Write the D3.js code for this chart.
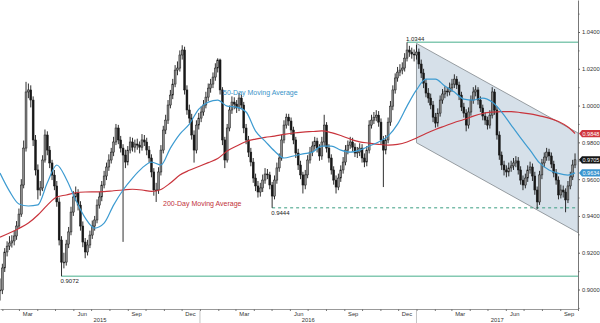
<!DOCTYPE html>
<html>
<head>
<meta charset="utf-8">
<script src="https://cdn.jsdelivr.net/npm/d3@7"></script>
<style>
  html, body { margin: 0; padding: 0; background: #fff; }
  svg { display: block; font-family: "Liberation Sans", Arial, sans-serif; }
</style>
</head>
<body>
<svg id="chart" width="600" height="323"></svg>
<script>
// USD/CHF candles (4-day bars), Jan 2015 – Sep 2017, prices in 1/10000
const startDate = "2015-01-28";
const stepDays = 4;

const closes = [
  8997, 9117, 9204, 9236, 9253, 9264, 9291, 9345, 9410, 9568,
  9769, 10074, 10085, 10030, 9813, 9650, 9541, 9552, 9704, 9840,
  9758, 9688, 9622, 9563, 9476, 9269, 9149, 9149, 9247, 9313,
  9421, 9503, 9525, 9459, 9345, 9258, 9204, 9242, 9296, 9345,
  9378, 9459, 9503, 9568, 9617, 9666, 9704, 9747, 9802, 9878,
  9813, 9769, 9731, 9693, 9758, 9802, 9774, 9791, 9785, 9774,
  9813, 9802, 9758, 9715, 9639, 9541, 9541, 9639, 9758, 9867,
  9921, 10003, 10057, 10117, 10193, 10204, 10275, 10302, 10085, 9976,
  9932, 9840, 9758, 9894, 9932, 9965, 10003, 10046, 10095, 10117,
  10155, 10204, 10248, 10085, 9813, 9704, 9878, 9976, 10019, 10008,
  9987, 10041, 10003, 9878, 9813, 9747, 9693, 9606, 9563, 9530,
  9552, 9595, 9628, 9623, 9568, 9508, 9595, 9661, 9715, 9813,
  9894, 9937, 9916, 9867, 9813, 9742, 9677, 9623, 9568, 9623,
  9704, 9747, 9780, 9807, 9769, 9726, 9802, 9894, 9769, 9715,
  9650, 9595, 9557, 9606, 9650, 9693, 9758, 9785, 9802, 9774,
  9742, 9747, 9769, 9715, 9693, 9758, 9894, 9921, 9937, 9948,
  9910, 9813, 9758, 9813, 9910, 9997, 10085, 10150, 10182, 10193,
  10204, 10258, 10302, 10291, 10280, 10275, 10291, 10226, 10177, 10122,
  10068, 10041, 10003, 9937, 9905, 9959, 10030, 10063, 10079, 10074,
  10096, 10117, 10144, 10112, 10057, 9992, 9959, 9894, 9965, 10030,
  10074, 10085, 10030, 9987, 9943, 9921, 9894, 9948, 10074, 9976,
  9840, 9731, 9677, 9650, 9639, 9661, 9672, 9688, 9699, 9650,
  9595, 9568, 9606, 9650, 9666, 9617, 9541, 9476, 9623, 9688,
  9720, 9747, 9726, 9682, 9633, 9595, 9514, 9541, 9530, 9487,
  9563, 9612, 9677, 9705
];

const highs = [
  9060, 9140, 9225, 9262, 9290, 9295, 9320, 9372, 9440, 9600,
  9810, 10129, 10120, 10110, 10050, 9840, 9680, 9590, 9730, 9870,
  9860, 9780, 9705, 9650, 9590, 9500, 9290, 9200, 9270, 9340,
  9450, 9535, 9560, 9545, 9480, 9370, 9280, 9270, 9320, 9375,
  9400, 9490, 9530, 9590, 9645, 9690, 9735, 9770, 9830, 9900,
  9895, 9835, 9790, 9760, 9780, 9830, 9825, 9815, 9820, 9805,
  9845, 9840, 9825, 9780, 9735, 9660, 9580, 9665, 9785, 9890,
  9950, 10030, 10085, 10145, 10220, 10240, 10300, 10328, 10320, 10110,
  10005, 9955, 9865, 9920, 9960, 9995, 10030, 10075, 10120, 10145,
  10180, 10230, 10257, 10255, 10100, 9830, 9900, 10000, 10050, 10045,
  10030, 10070, 10060, 10020, 9900, 9835, 9770, 9715, 9630, 9590,
  9580, 9625, 9660, 9655, 9640, 9585, 9620, 9690, 9740, 9840,
  9920, 9956, 9955, 9935, 9885, 9830, 9765, 9700, 9640, 9650,
  9730, 9775, 9805, 9830, 9825, 9790, 9830, 9950, 9910, 9790,
  9735, 9670, 9620, 9630, 9675, 9720, 9785, 9810, 9830, 9825,
  9795, 9775, 9795, 9790, 9740, 9780, 9920, 9950, 9965, 9975,
  9970, 9930, 9835, 9840, 9935, 10025, 10110, 10175, 10210, 10225,
  10235, 10285, 10344, 10325, 10315, 10305, 10330, 10310, 10250, 10200,
  10145, 10095, 10065, 10025, 9960, 9985, 10055, 10090, 10105, 10100,
  10125, 10145, 10170, 10160, 10130, 10075, 10015, 9980, 9990, 10055,
  10100, 10110, 10100, 10050, 10005, 9965, 9940, 9975, 10100, 10090,
  9995, 9860, 9750, 9700, 9675, 9690, 9700, 9715, 9725, 9720,
  9670, 9620, 9630, 9675, 9695, 9685, 9640, 9560, 9645, 9710,
  9745, 9770, 9765, 9745, 9700, 9655, 9615, 9570, 9565, 9550,
  9590, 9640, 9705, 9740
];

const lows = [
  8940, 8975, 9095, 9180, 9215, 9228, 9240, 9270, 9330, 9395,
  9550, 9750, 10040, 9990, 9780, 9620, 9490, 9510, 9535, 9690,
  9730, 9660, 9595, 9540, 9450, 9240, 9072, 9115, 9130, 9225,
  9295, 9400, 9480, 9430, 9320, 9230, 9170, 9185, 9225, 9275,
  9320, 9360, 9440, 9480, 9550, 9595, 9645, 9685, 9725, 9785,
  9790, 9745, 9259, 9660, 9675, 9740, 9750, 9745, 9760, 9740,
  9755, 9780, 9730, 9690, 9610, 9510, 9476, 9520, 9620, 9740,
  9845, 9900, 9985, 10035, 10100, 10165, 10185, 10250, 10060, 9950,
  9905, 9815, 9690, 9740, 9870, 9910, 9945, 9985, 10025, 10070,
  10095, 10135, 10180, 10060, 9785, 9660, 9690, 9860, 9955, 9980,
  9960, 9970, 9980, 9850, 9790, 9720, 9670, 9580, 9535, 9500,
  9505, 9530, 9575, 9600, 9545, 9444, 9490, 9575, 9640, 9700,
  9795, 9875, 9890, 9840, 9790, 9715, 9650, 9600, 9522, 9545,
  9605, 9685, 9725, 9760, 9745, 9700, 9705, 9780, 9745, 9690,
  9625, 9570, 9522, 9540, 9585, 9630, 9675, 9735, 9765, 9750,
  9720, 9715, 9725, 9690, 9665, 9670, 9740, 9875, 9900, 9915,
  9885, 9790, 9557, 9735, 9795, 9890, 9975, 10065, 10130, 10160,
  10170, 10185, 10240, 10265, 10255, 10240, 10250, 10200, 10150, 10095,
  10045, 10015, 9980, 9910, 9880, 9885, 9940, 10010, 10040, 10050,
  10055, 10075, 10095, 10090, 10030, 9970, 9935, 9860, 9875, 9945,
  10010, 10050, 10005, 9965, 9920, 9895, 9870, 9875, 9930, 9950,
  9815, 9705, 9650, 9620, 9610, 9615, 9640, 9650, 9665, 9625,
  9570, 9540, 9550, 9585, 9630, 9590, 9515, 9438, 9460, 9600,
  9665, 9700, 9700, 9660, 9610, 9570, 9490, 9495, 9500, 9420,
  9470, 9545, 9595, 9660
];

// Moving averages, read at every 4th bar plus the final bar
const ma50 = [
  9633, 9535, 9465, 9454, 9460, 9580, 9677, 9601, 9487, 9389,
  9334, 9361, 9459, 9541, 9606, 9660, 9693, 9677, 9769, 9845,
  9899, 9981, 10019, 10030, 9997, 9992, 9965, 9861, 9807, 9753,
  9715, 9726, 9737, 9747, 9780, 9780, 9758, 9747, 9758, 9780,
  9802, 9834, 9899, 9997, 10085, 10144, 10144, 10106, 10074, 10035,
  10030, 10041, 10019, 9965, 9894, 9824, 9758, 9688, 9650, 9631,
  9622, 9634
];
const ma200 = [
  9285, 9307, 9332, 9361, 9405, 9459, 9503, 9514, 9526, 9530,
  9531, 9532, 9537, 9541, 9545, 9541, 9533, 9544, 9579, 9622,
  9648, 9669, 9690, 9712, 9753, 9780, 9805, 9818, 9827, 9834,
  9843, 9851, 9856, 9859, 9862, 9853, 9837, 9818, 9803, 9796,
  9789, 9785, 9789, 9802, 9824, 9848, 9870, 9889, 9908, 9924,
  9943, 9957, 9964, 9967, 9967, 9962, 9955, 9944, 9932, 9913,
  9883, 9848
];

// Support / resistance levels
const levelValues = [1.0344, 0.9072, 0.9444];
const levelStarts = ["2016-12-16", "2015-05-12", "2016-05-02"];
const levelDashed = [false, false, true];

// Falling channel: [start, end] dates and upper / lower prices
const channelDates = ["2017-01-01", "2017-10-01"];
const channelUpper = [1.0338, 0.9851];
const channelLower = [0.9798, 0.9309];

const majorTicks = [0.90, 0.92, 0.94, 0.96, 0.98, 1.00, 1.02, 1.04];
const minorTicks = [0.89, 0.91, 0.93, 0.95, 0.97, 0.99, 1.01, 1.03, 1.05];
const quarterMonths = [2, 5, 8, 11];

const parse = d3.timeParse("%Y-%m-%d");
const t0 = parse(startDate);
const tEnd = parse("2017-10-01");

const W = 578, H = 309;
const x = d3.scaleTime().domain([t0, tEnd]).range([0, W]);
const y = d3.scaleLinear().domain([0.8894, 1.0574]).range([H, 0]);

const candles = closes.map((c, i) => ({
  date: d3.timeDay.offset(t0, i * stepDays),
  open: (i ? closes[i - 1] : c) / 1e4,
  close: c / 1e4,
  high: highs[i] / 1e4,
  low: lows[i] / 1e4
}));

const maIdx = d3.range(0, closes.length, 4);
maIdx.push(closes.length - 1);
const ma50Pts = ma50.map((v, k) => ({ date: candles[maIdx[k]].date, v: v / 1e4 }));
const ma200Pts = ma200.map((v, k) => ({ date: candles[maIdx[k]].date, v: v / 1e4 }));

const svg = d3.select("#chart");
svg.append("defs").append("clipPath").attr("id", "plot")
  .append("rect").attr("x", 0).attr("y", 0).attr("width", W).attr("height", H);
const plot = svg.append("g").attr("clip-path", "url(#plot)");

// channel
const cd = channelDates.map(parse);
plot.append("path")
  .attr("d", d3.line()([
    [x(cd[0]), y(channelUpper[0])], [x(cd[1]), y(channelUpper[1])],
    [x(cd[1]), y(channelLower[1])], [x(cd[0]), y(channelLower[0])]
  ]) + "Z")
  .attr("fill", "#d6e0e9")
  .attr("stroke", "#80868b")
  .attr("stroke-width", 0.8);

// horizontal levels
levelValues.forEach((v, i) => {
  plot.append("line")
    .attr("x1", x(parse(levelStarts[i]))).attr("x2", W)
    .attr("y1", y(v)).attr("y2", y(v))
    .attr("stroke", levelDashed[i] ? "#3a9d80" : "#84c9b2")
    .attr("stroke-width", levelDashed[i] ? 1 : 1.4)
    .attr("stroke-dasharray", levelDashed[i] ? "3,3" : null);
});

// candles
const cg = plot.append("g");
cg.selectAll("line.wick").data(candles).join("line")
  .attr("class", "wick")
  .attr("x1", d => x(d.date)).attr("x2", d => x(d.date))
  .attr("y1", d => y(d.high)).attr("y2", d => y(d.low))
  .attr("stroke", "#181818").attr("stroke-width", 0.9);
cg.selectAll("rect.body").data(candles).join("rect")
  .attr("class", "body")
  .attr("x", d => x(d.date) - 0.95)
  .attr("width", 1.9)
  .attr("y", d => y(Math.max(d.open, d.close)))
  .attr("height", d => Math.max(0.8, Math.abs(y(d.open) - y(d.close))))
  .attr("fill", d => d.close >= d.open ? "#8c8c8c" : "#181818")
  .attr("stroke", "#181818").attr("stroke-width", 0.5);

// moving averages
const maLine = d3.line().x(d => x(d.date)).y(d => y(d.v)).curve(d3.curveMonotoneX);
plot.append("path").datum(ma200Pts).attr("d", maLine)
  .attr("fill", "none").attr("stroke", "#c9343c").attr("stroke-width", 1.2);
plot.append("path").datum(ma50Pts).attr("d", maLine)
  .attr("fill", "none").attr("stroke", "#3d9bd1").attr("stroke-width", 1.2);

// level labels
const lvlText = [
  { i: 0, dy: -1.5 }, { i: 1, dy: 7 }, { i: 2, dy: 7 }
];
lvlText.forEach(o => {
  svg.append("text")
    .attr("x", x(parse(levelStarts[o.i])) - 1)
    .attr("y", y(levelValues[o.i]) + o.dy)
    .attr("font-size", 6).attr("fill", "#222")
    .text(levelValues[o.i].toFixed(4));
});

// moving average labels
svg.append("text").attr("x", 223).attr("y", 94.5)
  .attr("font-size", 7).attr("fill", "#3a94c9").text("50-Day Moving Average");
svg.append("text").attr("x", 163).attr("y", 206)
  .attr("font-size", 7).attr("fill", "#c2323a").text("200-Day Moving Average");

// right price axis
const yAxis = svg.append("g").attr("transform", `translate(${W},0)`)
  .call(d3.axisRight(y).tickValues(majorTicks).tickSize(2).tickSizeOuter(0)
    .tickPadding(2).tickFormat(d3.format(".4f")));
svg.append("g").attr("transform", `translate(${W},0)`)
  .call(d3.axisRight(y).tickValues(minorTicks).tickSize(1.5).tickSizeOuter(0).tickFormat(""))
  .select(".domain").remove();
yAxis.attr("font-family", null).attr("font-size", null);
yAxis.selectAll("text").attr("font-size", 5.8).attr("fill", "#333");
svg.selectAll(".tick line").attr("stroke", "#666");
yAxis.select(".domain").attr("stroke", "#777");

// bottom time axis
const xAxis = svg.append("g").attr("transform", `translate(0,${H})`)
  .call(d3.axisBottom(x).ticks(d3.timeMonth.every(1)).tickSize(2).tickSizeOuter(0).tickFormat(""));
xAxis.select(".domain").attr("stroke", "#999");
xAxis.selectAll(".tick line").attr("stroke", "#777");

const fmtMonth = d3.timeFormat("%b");
d3.timeMonth.range(t0, tEnd).filter(m => quarterMonths.includes(m.getMonth())).forEach(m => {
  svg.append("text").attr("x", x(d3.timeDay.offset(m, 15))).attr("y", 316)
    .attr("text-anchor", "middle").attr("font-size", 5.8).attr("fill", "#333")
    .text(fmtMonth(m));
});
d3.timeYear.range(d3.timeYear.floor(t0), tEnd).forEach(yr => {
  const a = Math.max(+t0, +yr), b = Math.min(+tEnd, +d3.timeYear.offset(yr, 1));
  svg.append("text").attr("x", (x(new Date(a)) + x(new Date(b))) / 2).attr("y", 322)
    .attr("text-anchor", "middle").attr("font-size", 5.8).attr("fill", "#333")
    .text(d3.timeFormat("%Y")(yr));
});
d3.timeYear.range(t0, tEnd).forEach(yr => {
  svg.append("line").attr("x1", x(yr)).attr("x2", x(yr))
    .attr("y1", H + 1.5).attr("y2", 323).attr("stroke", "#b5b5b5").attr("stroke-width", 0.8);
});

// last-value tags on the price axis
const tags = [
  { v: ma200[ma200.length - 1] / 1e4, color: "#d0353d" },
  { v: closes[closes.length - 1] / 1e4, color: "#151515" },
  { v: ma50[ma50.length - 1] / 1e4, color: "#3a95cf" }
];
tags.forEach(t => {
  const ty = y(t.v);
  svg.append("path")
    .attr("d", d3.line()([[W + 1, ty], [W + 4, ty - 3.6], [600, ty - 3.6], [600, ty + 3.6], [W + 4, ty + 3.6]]) + "Z")
    .attr("fill", t.color);
  svg.append("text").attr("x", W + 4.5).attr("y", ty + 2)
    .attr("font-size", 5.5).attr("fill", "#fff").text(t.v.toFixed(4));
});
</script>
</body>
</html>
